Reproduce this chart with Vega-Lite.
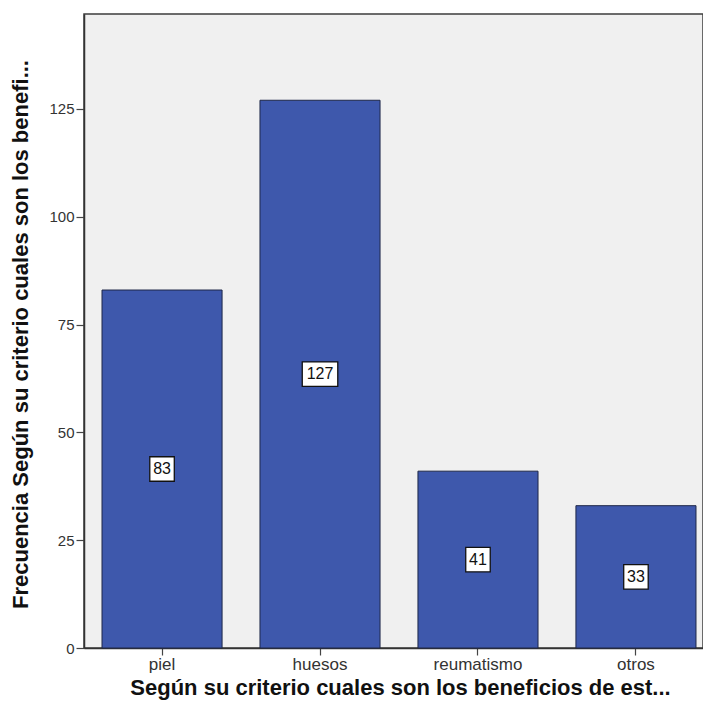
{
  "$schema": "https://vega.github.io/schema/vega-lite/v6.json",
  "autosize": {"type": "none"},
  "padding": {"left": 84, "top": 14, "right": 0, "bottom": 65},
  "width": 619,
  "height": 634,
  "background": "white",
  "config": {
    "font": "Liberation Sans",
    "view": {"fill": "#f0f0f0", "stroke": "#3c3c3c", "strokeWidth": 1.5},
    "axis": {
      "grid": false,
      "domainColor": "#333333",
      "domainWidth": 1.5,
      "tickColor": "#444444",
      "tickWidth": 1.2,
      "tickSize": 8,
      "labelFont": "Liberation Sans",
      "labelColor": "#333333",
      "titleFont": "Liberation Sans",
      "titleFontWeight": "bold",
      "titleColor": "#111111"
    }
  },
  "data": {
    "values": [
      {"cat": "piel", "n": 83},
      {"cat": "huesos", "n": 127},
      {"cat": "reumatismo", "n": 41},
      {"cat": "otros", "n": 33}
    ]
  },
  "encoding": {
    "x": {
      "field": "cat",
      "type": "nominal",
      "sort": null,
      "scale": {"range": [0, 630], "paddingInner": 0.24, "paddingOuter": 0.114},
      "axis": {
        "title": "Según su criterio cuales son los beneficios de est...",
        "labelAngle": 0,
        "labelPadding": 1,
        "labelFontSize": 17,
        "tickSize": 7,
        "titleFontSize": 22,
        "titleX": 316,
        "titleY": 39,
        "titleBaseline": "middle"
      }
    }
  },
  "layer": [
    {
      "mark": {"type": "bar", "color": "#3e58ac", "stroke": "#1e2748", "strokeWidth": 1},
      "encoding": {
        "y": {
          "field": "n",
          "type": "quantitative",
          "scale": {"domain": [0, 147], "nice": false},
          "axis": {
            "title": "Frecuencia Según su criterio cuales son los benefi...",
            "values": [0, 25, 50, 75, 100, 125],
            "labelPadding": 2,
            "labelFontSize": 15,
            "titleFontSize": 22,
            "titleX": -64,
            "titleY": 320,
            "titleBaseline": "middle",
            "titleAlign": "center"
          }
        }
      }
    },
    {
      "transform": [{"filter": "datum.n < 100"}, {"calculate": "datum.n / 2", "as": "mid"}],
      "mark": {"type": "point", "shape": "M-1,-1H1V1H-1Z", "filled": true, "fill": "white", "stroke": "#111111", "strokeWidth": 1.3, "opacity": 1, "size": 600},
      "encoding": {"y": {"field": "mid", "type": "quantitative"}}
    },
    {
      "transform": [{"filter": "datum.n >= 100"}, {"calculate": "datum.n / 2", "as": "mid"}],
      "mark": {"type": "point", "shape": "M-1.45,-1H1.45V1H-1.45Z", "filled": true, "fill": "white", "stroke": "#111111", "strokeWidth": 1.3, "opacity": 1, "size": 600},
      "encoding": {"y": {"field": "mid", "type": "quantitative"}}
    },
    {
      "transform": [{"calculate": "datum.n / 2", "as": "mid"}],
      "mark": {"type": "text", "font": "Liberation Sans", "fontSize": 16, "color": "#111111", "baseline": "middle", "align": "center"},
      "encoding": {
        "y": {"field": "mid", "type": "quantitative"},
        "text": {"field": "n", "type": "quantitative"}
      }
    }
  ]
}
